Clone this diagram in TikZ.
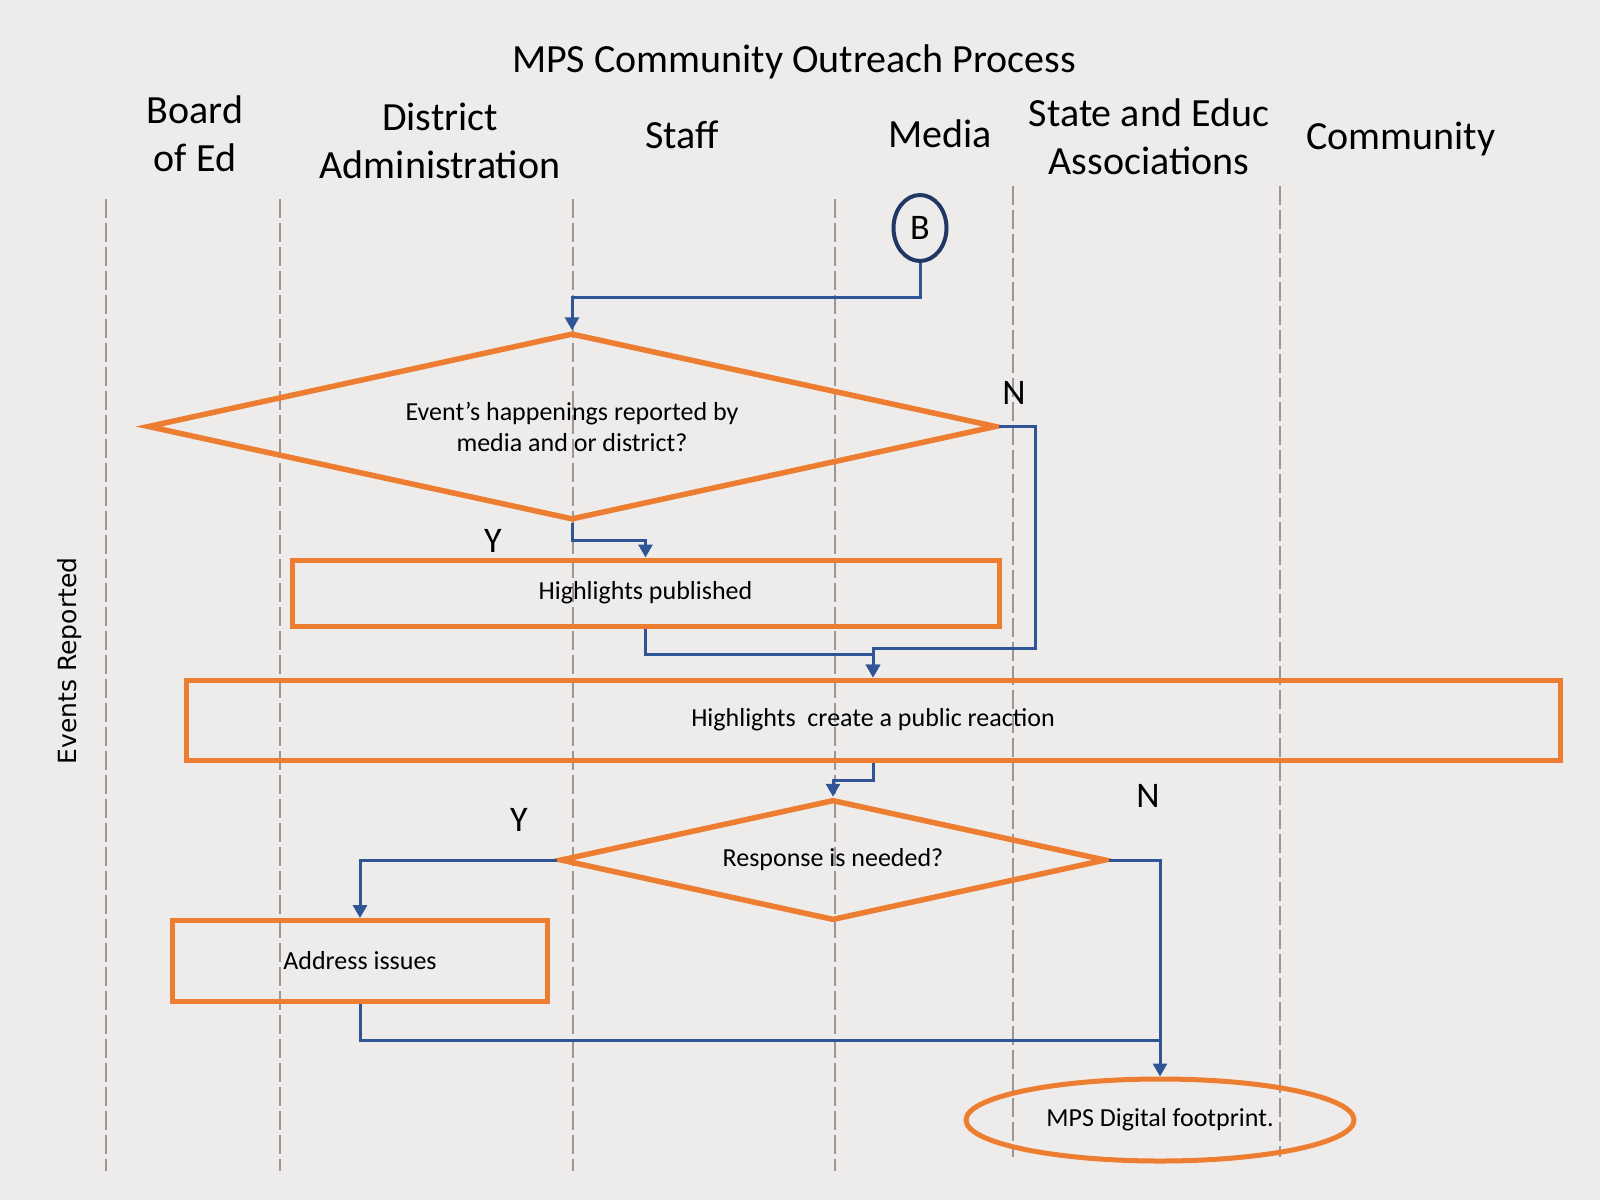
\documentclass[tikz,border=0pt]{standalone}
\usepackage{fontspec}
\setmainfont{Carlito}
\newfontfamily\dejavu{DejaVu Sans}
\usetikzlibrary{shapes.geometric,arrows.meta}
\definecolor{bgc}{RGB}{237,236,234}
\definecolor{org}{RGB}{237,125,49}
\definecolor{connc}{RGB}{47,85,151}
\definecolor{dblue}{RGB}{31,56,100}
\definecolor{lanec}{RGB}{158,150,148}
\begin{document}
\begin{tikzpicture}[x=1pt,y=-1pt,
  lanestyle/.style={draw=lanec,line width=2.5pt,dash pattern=on 19pt off 5pt},
  hdr/.style={font=\fontsize{40}{48}\selectfont,align=center,inner sep=0pt},
  obox/.style={draw=org,line width=5pt,rectangle,inner sep=0pt,font=\fontsize{26}{31}\selectfont},
  odia/.style={draw=org,line width=5.5pt,diamond,inner sep=0pt,align=center,font=\fontsize{26}{31}\selectfont},
  flow/.style={draw=connc,line width=3pt},
  arr/.style={flow,-{Triangle[width=14pt,length=13pt]}},
  yn/.style={font=\fontsize{36}{40}\selectfont,inner sep=0pt},
]
\fill[bgc] (0,0) rectangle (1600,1200);
\useasboundingbox (0,0) rectangle (1600,1200);

% title and headers
\node[hdr] (title) at (794,62) {MPS Community Outreach Process};
\node[hdr] (h1) at (195,134) {Board\\of Ed};
\node[hdr] (h2) at (440,141) {District\\Administration};
\node[hdr] (h3) at (682,135) {Staff};
\node[hdr] (h4) at (940,134) {Media};
\node[hdr] (h5) at (1149,137) {State and Educ\\Associations};
\node[hdr] (h6) at (1401,139) {Community};

% lanes
\draw[lanestyle] (106,199) -- (106,1171);
\draw[lanestyle] (280,199) -- (280,1171);
\draw[lanestyle] (573,199) -- (573,1171);
\draw[lanestyle] (835,199) -- (835,1171);
\draw[lanestyle] (1013,186) -- (1013,1157);
\draw[lanestyle] (1280,186) -- (1280,1157);

\node[rotate=90,inner sep=0pt,font=\dejavu\fontsize{25}{30}\selectfont] (er) at (70,661) {Events Reported};

% shapes
\node[ellipse,draw=dblue,line width=4pt,minimum width=53pt,minimum height=66pt,inner sep=0pt,font=\fontsize{36}{40}\selectfont] (B) at (920,228) {B};
\node[odia,shape aspect=4.54,minimum width=849pt,minimum height=187pt] (d1) at (572,426.5) {Event’s happenings reported by\\media and or district?};
\node[obox,minimum width=707pt,minimum height=66pt] (hp) at (645.5,593) {Highlights published};
\node[obox,minimum width=1374pt,minimum height=80pt] (hr) at (873,720) {Highlights\ \ create a public reaction};
\node[odia,shape aspect=4.51,minimum width=546pt,minimum height=121pt] (d2) at (833,860) {Response is needed?};
\node[obox,minimum width=375pt,minimum height=81pt] (ai) at (360,961) {Address issues};
\node[ellipse,draw=org,line width=5pt,minimum width=388pt,minimum height=82pt,inner sep=0pt,font=\fontsize{26}{31}\selectfont] (el) at (1160,1120) {MPS Digital footprint.};

% labels
\node[yn] (n1) at (1014,393) {N};
\node[yn] (y1) at (493,541) {Y};
\node[yn] (y2) at (519,820) {Y};
\node[yn] (n2) at (1148,796) {N};

% corner coordinates
\coordinate (k1) at (572,297);
\coordinate (k2) at (645.5,540);
\coordinate (k3) at (1035,648);
\coordinate (k4) at (873,648);
\coordinate (k5) at (873,654);
\coordinate (k6) at (833,780);
\coordinate (k7) at (360,860);
\coordinate (k8) at (1160,860);
\coordinate (k9) at (1160,1040);

% connectors
\draw[arr] (B.south) |- (k1) -- (d1.north);
\draw[arr] (d1.south) |- (k2) -- (hp.north);
\draw[arr] (d1.east) -| (k3) -- (k4) -- (hr.north);
\draw[arr] (hp.south) |- (k5) -- (hr.north);
\draw[arr] (hr.south) |- (k6) -- (d2.north);
\draw[arr] (d2.west) -- (k7) -- (ai.north);
\draw[arr] (d2.east) -- (k8) -- (el.north);
\draw[flow] (ai.south) |- (k9);
\end{tikzpicture}
\end{document}
